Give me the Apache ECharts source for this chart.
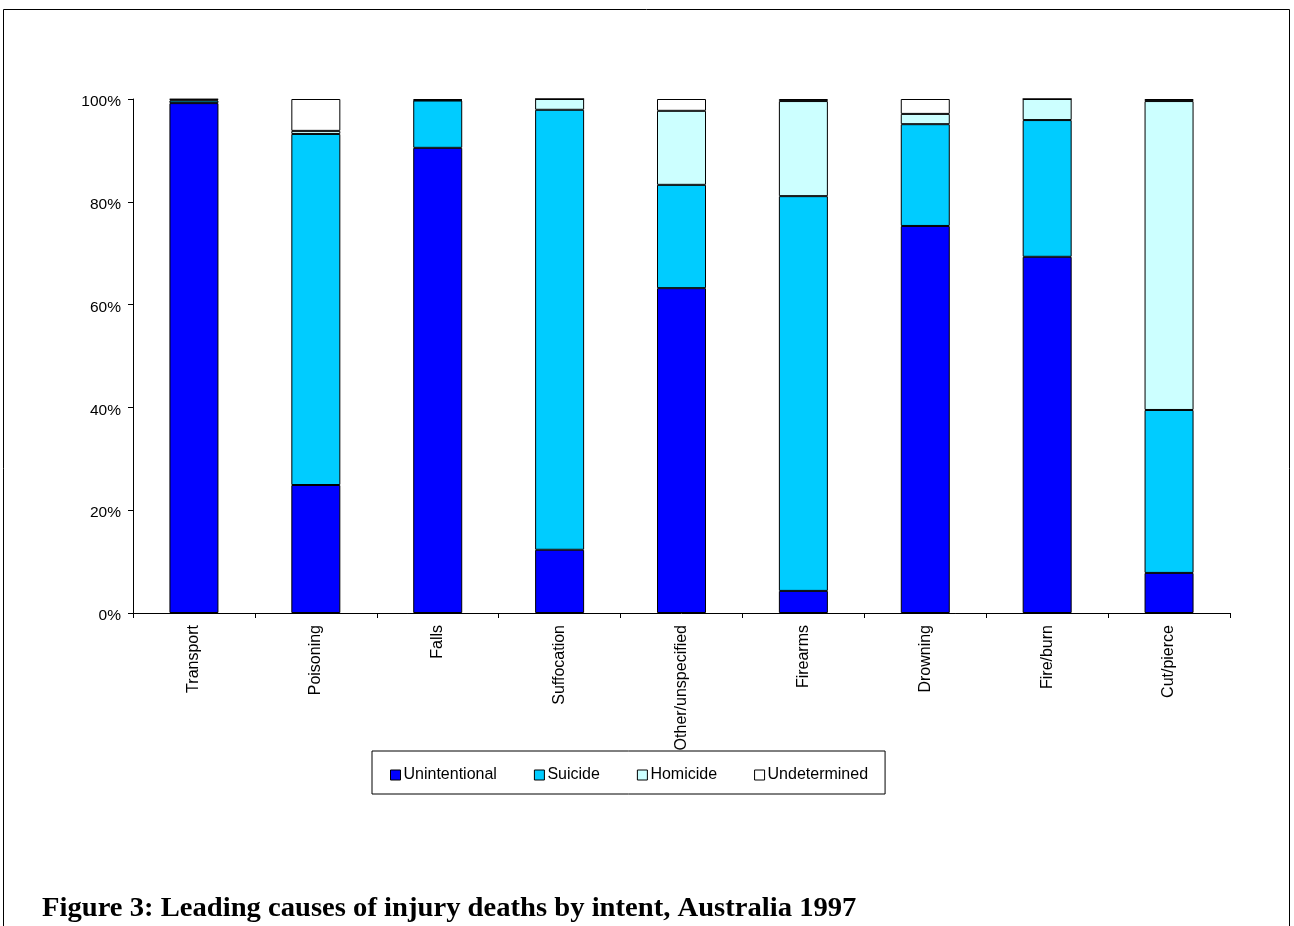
<!DOCTYPE html>
<html>
<head>
<meta charset="utf-8">
<script src="https://cdn.jsdelivr.net/npm/echarts@6/dist/echarts.min.js"></script>
<style>
  html, body { margin: 0; padding: 0; background: #fff; }
  #chart { width: 1294px; height: 926px; }
</style>
</head>
<body>
<div id="chart"></div>
<script>
// Injury deaths by intent (per cent of each cause), Australia 1997
const categories = ['Transport', 'Poisoning', 'Falls', 'Suffocation', 'Other/unspecified', 'Firearms', 'Drowning', 'Fire/burn', 'Cut/pierce'];
const unintentional = [99.2, 24.9, 90.5, 12.3, 63.2, 4.3, 75.3, 69.3, 7.8];
const suicide       = [0.5, 68.3, 9.2, 85.6, 20.1, 76.8, 19.8, 26.6, 31.7];
const homicide      = [0.2, 0.6, 0.1, 2.1, 14.4, 18.5, 2.0, 4.1, 60.1];
const undetermined  = [0.1, 6.2, 0.2, 0.0, 2.3, 0.4, 2.9, 0.0, 0.4];
const yTicks = [0, 20, 40, 60, 80, 100];

const seriesDefs = [
  { name: 'Unintentional', data: unintentional, color: '#0000FF' },
  { name: 'Suicide', data: suicide, color: '#00CCFF' },
  { name: 'Homicide', data: homicide, color: '#CCFFFF' },
  { name: 'Undetermined', data: undetermined, color: '#FFFFFF' }
];

const chart = echarts.init(document.getElementById('chart'), null, { renderer: 'canvas' });

const font = '"Liberation Sans", Arial, sans-serif';

chart.setOption({
  animation: false,
  backgroundColor: '#fff',
  grid: { left: 133, right: 64, top: 99, height: 514, containLabel: false },
  legend: {
    left: 372,
    top: 751,
    orient: 'horizontal',
    padding: [16, 17, 11, 18],
    borderColor: '#000',
    borderWidth: 1,
    itemWidth: 10,
    itemHeight: 10,
    itemGap: 37,
    icon: 'rect',
    textStyle: { fontFamily: font, fontSize: 16, color: '#000', padding: [4, 0, 0, -2] },
    itemStyle: { borderColor: '#000', borderWidth: 1 },
    data: seriesDefs.map(s => s.name)
  },
  xAxis: {
    type: 'category',
    data: categories,
    axisLine: { lineStyle: { color: '#000', width: 1 } },
    axisTick: { show: true, length: 5, inside: false, alignWithLabel: false, lineStyle: { color: '#000' } },
    axisLabel: { rotate: 90, margin: 12, fontFamily: font, fontSize: 16, color: '#000', interval: 0 },
    splitLine: { show: false }
  },
  yAxis: {
    type: 'value',
    min: yTicks[0],
    max: yTicks[yTicks.length - 1],
    interval: 20,
    axisLine: { show: true, lineStyle: { color: '#000', width: 1 } },
    axisTick: { show: true, length: 5, lineStyle: { color: '#000' } },
    axisLabel: {
      margin: 12,
      color: '#000',
      formatter: v => '{p|' + v + '%}',
      rich: { p: { fontFamily: font, fontSize: 15.5, color: '#000', padding: [6, 0, 0, 0] } }
    },
    splitLine: { show: false }
  },
  series: seriesDefs.map(s => ({
    name: s.name,
    type: 'bar',
    stack: 'total',
    barWidth: 49,
    data: s.data,
    itemStyle: { color: s.color, borderColor: '#000', borderWidth: 1 },
    emphasis: { disabled: true }
  })),
  graphic: [
    {
      type: 'rect',
      shape: { x: 3.5, y: 9.5, width: 1286, height: 940 },
      style: { fill: 'none', stroke: '#000', lineWidth: 1 },
      silent: true
    },
    {
      type: 'text',
      left: 42,
      top: 896,
      style: {
        text: 'Figure 3: Leading causes of injury deaths by intent, Australia 1997',
        font: 'bold 27px "Liberation Serif", "Times New Roman", serif',
        fill: '#000'
      },
      scaleX: 1.06
    }
  ]
});
</script>
</body>
</html>
